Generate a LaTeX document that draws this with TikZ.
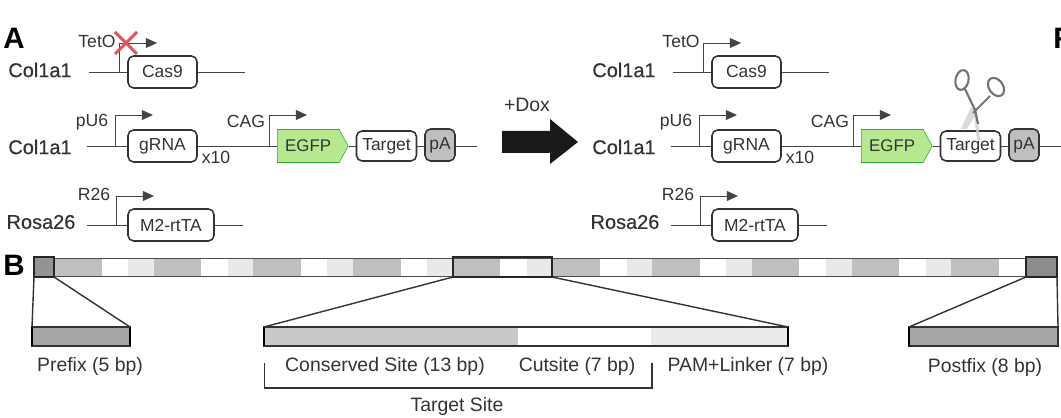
\documentclass[tikz,border=0pt]{standalone}
\usepackage{fontspec}
\setmainfont{Liberation Sans}
\newfontfamily\locusfont[FakeBold=0.5]{Liberation Sans}
\usetikzlibrary{arrows.meta,shapes.symbols}
\definecolor{ink}{HTML}{333333}
\definecolor{wire}{HTML}{444444}
\definecolor{midgrey}{HTML}{BFBFBF}
\definecolor{palegrey}{HTML}{E9E9E9}
\definecolor{egfpfill}{HTML}{B5E88F}
\definecolor{egfpline}{HTML}{35A835}
\definecolor{crossred}{HTML}{E0565B}
\def\px{0.025cm}
\begin{document}
\begin{tikzpicture}
                [
                x=0.025cm,y=-0.025cm,
                txt/.style={text=ink,font=\fontsize{13.8}{16}\selectfont,inner sep=0pt},
                tagtxt/.style={text=ink,font=\fontsize{12.5}{15}\selectfont,inner sep=0pt},
                locus/.style={text=ink,font=\fontsize{14.2}{16}\locusfont,inner sep=0pt},
                panel/.style={text=black,font=\fontsize{21}{23}\selectfont\bfseries,inner sep=0pt},
                genebox/.style={draw=ink,line width=1.1pt,rounded corners=4pt,fill=white,text=ink,font=\fontsize{12.4}{15}\selectfont,inner sep=0pt,minimum height=32*\px},
                egfp/.style={signal,signal to=east,signal pointer angle=122,draw=egfpline,fill=egfpfill,text=ink,font=\fontsize{12}{15}\selectfont,inner sep=0pt,minimum width=71*\px,minimum height=33*\px},
                wireline/.style={draw=wire,line width=0.7pt},
                promoter/.style={draw=wire,line width=0.7pt,-{Triangle[length=0.28cm,width=0.25cm]}},
                zoombox/.style={draw=black!85,line width=1.5pt,inner sep=0pt,outer sep=0pt},
                lowbar/.style={draw=black!80,line width=0.8pt,inner sep=0pt,outer sep=0pt,minimum height=19*\px},
                zoomline/.style={draw=black!80,line width=1pt},
                handle/.style={draw=black!55,line width=1.5pt}
                ]
            \useasboundingbox (0,0) rectangle (1061,418);
            \node[panel] (panelA) at (14,38) {A};
            \node[panel] (panelB) at (14,265) {B};
            \node[panel,anchor=west] (panelF) at (1053,38) {F};
            \foreach \side/\dx in {L/0,R/584}
            {
            \begin{scope}[xshift=\dx*\px]
            \node[locus] (colI\side) at (40,70) {Col1a1};
            \node[locus] (colII\side) at (40,147) {Col1a1};
            \node[locus] (rosa\side) at (41,222) {Rosa26};
            \node[genebox,minimum width=69*\px] (cas\side) at (162.5,72) {Cas9};
            \node[genebox,minimum width=69*\px] (grna\side) at (162.5,146) {gRNA};
            \node[genebox,minimum width=86*\px] (rtta\side) at (171,225) {M2-rtTA};
            \node[egfp,anchor=west] (egfp\side) at (277,146) {EGFP};
            \node[genebox,minimum width=60*\px,minimum height=30*\px] (target\side) at (386.5,146) {Target};
            \node[genebox,minimum width=30*\px,fill=midgrey] (pa\side) at (440,145) {pA};
            \node[tagtxt] (teto\side) at (97,41) {TetO};
            \node[tagtxt] (pusix\side) at (92,122) {pU6};
            \node[tagtxt] (cag\side) at (246,121) {CAG};
            \node[tagtxt] (rtsix\side) at (94,194) {R26};
            \node[tagtxt] (xten\side) at (216,157) {x10};
            \coordinate (casin\side) at (89,72);
            \coordinate (casout\side) at (245,72);
            \coordinate (grnain\side) at (87,146);
            \coordinate (paout\side) at (477,146);
            \coordinate (rttain\side) at (87,225);
            \coordinate (rttaout\side) at (243,225);
            \coordinate (tetofoot\side) at (119,72);
            \coordinate (tetotip\side) at (157,43);
            \coordinate (pusixfoot\side) at (115,146);
            \coordinate (pusixtip\side) at (153,115);
            \coordinate (cagfoot\side) at (269,146);
            \coordinate (cagtip\side) at (307,115);
            \coordinate (rtsixfoot\side) at (116,225);
            \coordinate (rtsixtip\side) at (154,196);
            \draw[wireline] (casin\side) -- (cas\side.west);
            \draw[wireline] (cas\side.east) -- (casout\side);
            \draw[wireline] (grnain\side) -- (grna\side.west);
            \draw[wireline] (grna\side.east) -- (egfp\side.west);
            \draw[wireline] (egfp\side.east) -- (target\side.west);
            \draw[wireline] (target\side.east) -- (pa\side.west |- target\side.east);
            \draw[wireline] (pa\side.east |- paout\side) -- (paout\side);
            \draw[wireline] (rttain\side) -- (rtta\side.west);
            \draw[wireline] (rtta\side.east) -- (rttaout\side);
            \draw[promoter] (tetofoot\side) |- (tetotip\side);
            \draw[promoter] (pusixfoot\side) |- (pusixtip\side);
            \draw[promoter] (cagfoot\side) |- (cagtip\side);
            \draw[promoter] (rtsixfoot\side) |- (rtsixtip\side);
            \end{scope}
            }
            \draw[draw=crossred,line width=2.2pt] (115,32) -- (137,54) (137,32) -- (115,54);
            \node[txt] (dox) at (527,105) {+Dox};
            \fill[black!90] (502,131) -- (550,131) -- (550,119) -- (578,142) -- (550,164) -- (550,153) -- (502,153) -- cycle;
            \fill[black!18,opacity=0.8] (973,108) -- (977,108) -- (980,140) -- (977,140) -- cycle;
            \fill[black!18,opacity=0.8] (971,107) -- (977,112) -- (967,129) -- (961,129) -- cycle;
            \draw[handle] (965,89) -- (975,110) -- (978,124) (990,96) -- (973,113);
            \draw[handle,rotate around={-12:(962,80)}] (962,80) ellipse (6.5 and 10);
            \draw[handle,rotate around={35:(996,87)}] (996,87) ellipse (7 and 10);
            \foreach \i in {0,...,9}
            {
            \fill[midgrey] (54+99.7*\i,258.5) rectangle ++(47.5,17.5);
            \fill[palegrey] (54+99.7*\i+74,258.5) rectangle ++(25.7,17.5);
            }
            \draw[black!70,line width=0.7pt] (33,258.5) -- (1057,258.5) (33,276) -- (1057,276);
            \node[zoombox,fill=black!42,minimum width=20*\px,minimum height=20*\px] (prefixtop) at (44,267) {};
            \node[zoombox,minimum width=99*\px,minimum height=20*\px] (sitetop) at (502.5,267) {};
            \node[zoombox,fill=black!45,minimum width=31*\px,minimum height=20*\px] (postfixtop) at (1041.5,267) {};
            \node[lowbar,fill=black!35,minimum width=98*\px] (prefixlow) at (81,336.5) {};
            \node[lowbar,minimum width=524*\px] (sitelow) at (526,336.5) {};
            \node[lowbar,fill=black!35,minimum width=149*\px] (postfixlow) at (983.5,336.5) {};
            \fill[black!21] (265,327) rectangle (518,346);
            \fill[black!8] (651,327) rectangle (788,346);
            \draw[black!80,line width=0.8pt] (sitelow.south west) rectangle (sitelow.north east);
            \draw[black,line width=2pt] (sitelow.north west) -- (sitelow.south west);
            \draw[black,line width=2pt] (sitelow.north east) -- (sitelow.south east);
            \draw[black,line width=1.5pt] (prefixlow.north west) -- (prefixlow.south west) (prefixlow.north east) -- (prefixlow.south east);
            \draw[black,line width=1.5pt] (postfixlow.north west) -- (postfixlow.south west);
            \draw[zoomline] (prefixtop.south west) -- (prefixlow.north west);
            \draw[zoomline] (prefixtop.south east) -- (prefixlow.north east);
            \draw[zoomline] (sitetop.south west) -- (sitelow.north west);
            \draw[zoomline] (sitetop.south east) -- (sitelow.north east);
            \draw[zoomline] (postfixtop.south west) -- (postfixlow.north west);
            \draw[zoomline] (postfixtop.south east) -- (postfixlow.north east);
            \node[txt] (prefixtxt) at (90,366) {Prefix (5 bp)};
            \node[txt] (consertxt) at (385,366) {Conserved Site (13 bp)};
            \node[txt] (cuttxt) at (577,366) {Cutsite (7 bp)};
            \node[txt] (pamtxt) at (748,366) {PAM+Linker (7 bp)};
            \node[txt] (postfixtxt) at (985,367) {Postfix (8 bp)};
            \node[txt] (targettxt) at (457,406) {Target Site};
            \coordinate (bracketL) at (264.5,363);
            \coordinate (bracketR) at (652,363);
            \coordinate (bracketB) at (458,388);
            \draw[zoomline,line width=0.9pt] (bracketL) |- (bracketB) -| (bracketR);
\end{tikzpicture}
\end{document}
